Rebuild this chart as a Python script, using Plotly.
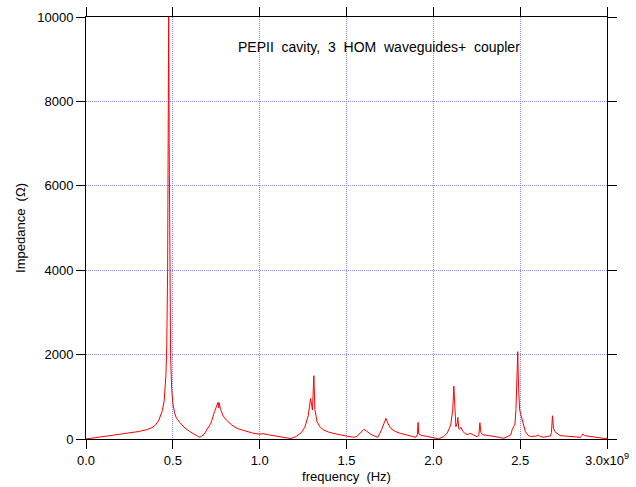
import numpy as np
import plotly.graph_objects as go

# frequency in GHz, impedance in Ohm
freq_ghz = [0.0, 0.05, 0.10, 0.15, 0.20, 0.25, 0.30, 0.35, 0.38, 0.40, 0.42, 0.44, 0.45, 0.46, 0.465,
            0.47, 0.473, 0.476, 0.479, 0.482, 0.487, 0.493, 0.50, 0.51, 0.52, 0.54, 0.57, 0.60, 0.63, 0.655,
            0.68, 0.70, 0.72, 0.74, 0.755, 0.76, 0.763, 0.766, 0.775, 0.79, 0.81, 0.84, 0.87, 0.92, 0.96,
            1.0, 1.02, 1.05, 1.1, 1.15, 1.18, 1.21, 1.24, 1.26, 1.28, 1.293, 1.30, 1.304, 1.312, 1.318,
            1.33, 1.35, 1.37, 1.40, 1.45, 1.50, 1.54, 1.56, 1.58, 1.60, 1.615, 1.64, 1.68, 1.70, 1.715,
            1.727, 1.74, 1.755, 1.78, 1.81, 1.86, 1.90, 1.908, 1.912, 1.916, 1.93, 1.96, 2.00, 2.03, 2.06,
            2.08, 2.10, 2.112, 2.118, 2.124, 2.13, 2.138, 2.141, 2.146, 2.152, 2.159, 2.17, 2.185, 2.20,
            2.213, 2.23, 2.251, 2.262, 2.268, 2.274, 2.285, 2.32, 2.347, 2.38, 2.405, 2.43, 2.445, 2.455,
            2.47, 2.476, 2.482, 2.486, 2.491, 2.497, 2.505, 2.51, 2.52, 2.53, 2.545, 2.56, 2.59, 2.607,
            2.615, 2.636, 2.655, 2.674, 2.68, 2.686, 2.692, 2.70, 2.73, 2.78, 2.847, 2.855, 2.861, 2.87,
            2.90, 2.95, 2.98, 3.0]
impedance = [0, 30, 60, 85, 110, 140, 175, 220, 270, 330, 450, 680, 900, 1500, 2200,
             4000, 7000, 10000, 7000, 4000, 2000, 1200, 850, 620, 500, 390, 260, 170, 90, 40,
             110, 230, 380, 650, 820, 870, 740, 860, 700, 540, 440, 330, 250, 180, 140,
             115, 125, 100, 60, 25, 10, 60, 150, 280, 560, 960, 700, 690, 1500, 700,
             410, 270, 210, 160, 110, 70, 40, 60, 150, 230, 190, 110, 40, 200, 360,
             490, 360, 250, 180, 135, 80, 40, 100, 395, 120, 85, 65, 40, 5, 60,
             140, 330, 700, 1255, 700, 290, 380, 510, 250, 230, 275, 180, 120, 110,
             135, 100, 55, 80, 385, 150, 100, 80, 70, 40, 15, 60, 95, 230,
             350, 730, 1500, 2070, 1200, 690, 560, 490, 300, 175, 90, 55, 70, 90,
             60, 40, 60, 70, 150, 550, 250, 175, 80, 60, 40, 80, 120, 80,
             60, 20, 15, 20]

x_tickvals = [0.0, 0.5, 1.0, 1.5, 2.0, 2.5, 3.0]
x_ticktext = ["0.0", "0.5", "1.0", "1.5", "2.0", "2.5", "3.0x10<sup>9</sup>"]
y_tickvals = [0, 2000, 4000, 6000, 8000, 10000]
y_ticktext = ["0", "2000", "4000", "6000", "8000", "10000"]

freq_hz = np.array(freq_ghz) * 1e9

FONT = "Liberation Sans, Arial, sans-serif"

fig = go.Figure()
fig.add_trace(go.Scatter(x=freq_hz, y=impedance, mode="lines",
                         line=dict(color="#ff0000", width=1), showlegend=False,
                         hoverinfo="skip"))

fig.add_annotation(x=1.685e9, y=9290, xref="x", yref="y", showarrow=False,
                   text="PEPII\u00a0 cavity,\u00a0 3\u00a0 HOM\u00a0 waveguides+\u00a0 coupler",
                   font=dict(family=FONT, size=14, color="black"))

axis_common = dict(showline=True, linecolor="black", linewidth=1, mirror="ticks",
                   ticks="outside", ticklen=9, tickcolor="black", tickwidth=1,
                   showgrid=True, gridcolor="#8a8aff", griddash="1px,1px", gridwidth=1,
                   zeroline=False, tickfont=dict(family=FONT, size=13, color="black"))

fig.update_xaxes(range=[0, 3e9], tickvals=[v * 1e9 for v in x_tickvals], ticktext=x_ticktext,
                 title=dict(text="frequency\u00a0 (Hz)", font=dict(family=FONT, size=13, color="black"),
                            standoff=5),
                 **axis_common)
fig.update_yaxes(range=[0, 10000], tickvals=y_tickvals, ticktext=y_ticktext,
                 title=dict(text="Impedance\u00a0 (\u03a9)", font=dict(family=FONT, size=13, color="black"),
                            standoff=8),
                 **axis_common)

fig.update_layout(width=636, height=487, margin=dict(l=86, r=29, t=17, b=48, autoexpand=False),
                  plot_bgcolor="white", paper_bgcolor="white",
                  font=dict(family=FONT, size=13, color="black"))

fig.write_html("out.html", config={"displayModeBar": False},
               post_script="document.body.style.margin='0';")
